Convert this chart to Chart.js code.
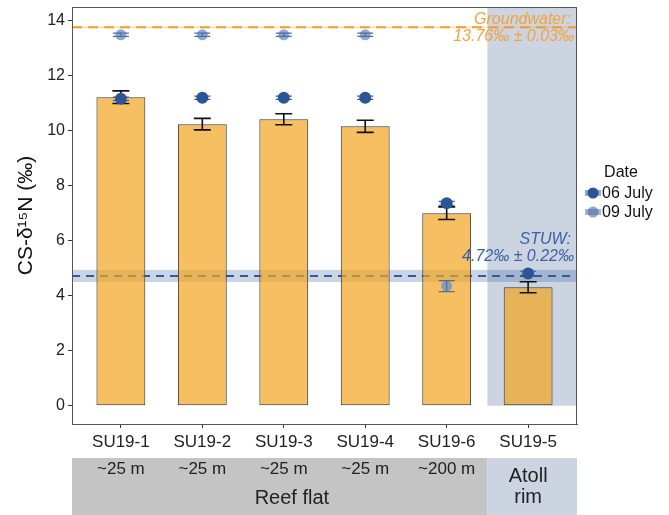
<!DOCTYPE html>
<html>
<head>
<meta charset="utf-8">
<script src="https://cdn.jsdelivr.net/npm/chart.js@4.4.1/dist/chart.umd.min.js"></script>
<style>
  html, body { margin: 0; padding: 0; background: #fff; }
  #wrap { width: 669px; height: 515px; }
</style>
</head>
<body>
<div id="wrap"><canvas id="chart"></canvas></div>
<script>
// --- Data -----------------------------------------------------------
const sites = ["SU19-1", "SU19-2", "SU19-3", "SU19-4", "SU19-6", "SU19-5"];
const distances = ["~25 m", "~25 m", "~25 m", "~25 m", "~200 m", ""];
const meanValues = [11.22, 10.24, 10.42, 10.16, 7.0, 4.31];
const meanErrors = [0.23, 0.21, 0.2, 0.22, 0.23, 0.2];
const july06 = [11.16, 11.2, 11.2, 11.2, 7.36, 4.81];
const july06Err = [0.06, 0.06, 0.06, 0.06, 0.07, 0.08];
const july09 = [13.49, 13.49, 13.49, 13.49, 4.35, null];
const july09Err = [0.06, 0.06, 0.06, 0.06, 0.2, null];
const gwMean = 13.76, gwSd = 0.03;
const stuwMean = 4.72, stuwSd = 0.22;
const yTicks = [0, 2, 4, 6, 8, 10, 12, 14];
const zoneNames = [["Reef flat"], ["Atoll", "rim"]];
const zoneSites = [[1, 5], [6, 6]];   // first/last site number in each zone

const FONT = '"Liberation Sans", Arial, Helvetica, sans-serif';
const ORANGE = "#f3a33c";
const BLUE_TXT = "#3b62a6";
const DARK_PT = "#2b5597";
const LIGHT_PT = "rgba(118,146,196,0.8)";

Chart.defaults.font.family = FONT;
Chart.defaults.color = "#222";

function toXY(vals) {
    return vals.map((v, i) => ({ x: i + 1, y: v }));
}

// --- Drawing helpers ------------------------------------------------
function errorBars(ctx, x, y, vals, errs, color, lw, cap) {
    ctx.save();
    ctx.strokeStyle = color;
    ctx.lineWidth = lw;
    vals.forEach((v, i) => {
        if (v == null || errs[i] == null) return;
        const px = x.getPixelForValue(i + 1);
        const hi = y.getPixelForValue(v + errs[i]);
        const lo = y.getPixelForValue(v - errs[i]);
        ctx.beginPath();
        ctx.moveTo(px, hi); ctx.lineTo(px, lo);
        ctx.moveTo(px - cap / 2, hi); ctx.lineTo(px + cap / 2, hi);
        ctx.moveTo(px - cap / 2, lo); ctx.lineTo(px + cap / 2, lo);
        ctx.stroke();
    });
    ctx.restore();
}

const overlays = {
    id: "overlays",
    beforeDatasetsDraw(chart) {
        const { ctx, chartArea: a, scales: { x, y } } = chart;
        ctx.save();
        // atoll rim shading (behind the bars)
        const ax = x.getPixelForValue(zoneSites[1][0] - 0.5);
        ctx.fillStyle = "#cbd4e0";
        ctx.fillRect(ax, a.top, a.right - ax, y.getPixelForValue(0) - a.top);

        // reference bands
        const band = (m, sd, col) => {
            const t = y.getPixelForValue(m + sd), b = y.getPixelForValue(m - sd);
            ctx.fillStyle = col;
            ctx.fillRect(a.left, t, a.right - a.left, Math.max(b - t, 1.2));
        };
        band(gwMean, gwSd, "rgba(245,165,60,0.35)");
        band(stuwMean, stuwSd, "rgba(60,100,160,0.28)");

        const dash = (m, col, pattern) => {
            const py = y.getPixelForValue(m);
            ctx.strokeStyle = col;
            ctx.lineWidth = 2;
            ctx.setLineDash(pattern);
            ctx.beginPath();
            ctx.moveTo(a.left, py); ctx.lineTo(a.right, py);
            ctx.stroke();
        };
        dash(gwMean, "#f39c2a", [10, 6]);
        dash(stuwMean, "#2f5a9e", [8, 6]);
        ctx.restore();
    },
    afterDatasetDraw(chart, args) {
        if (args.index !== 0) return;
        const { ctx, scales: { x, y } } = chart;
        errorBars(ctx, x, y, meanValues, meanErrors, "#111", 1.6, 17);
    },
    afterDatasetsDraw(chart) {
        const { ctx, scales: { x, y } } = chart;
        errorBars(ctx, x, y, july06, july06Err, DARK_PT, 1.2, 16);
        errorBars(ctx, x, y, july09, july09Err, "#4d6fa8", 1.2, 16);
    },
    afterDraw(chart) {
        const { ctx, chartArea: a, scales: { x, y } } = chart;
        ctx.save();
        // panel border
        ctx.strokeStyle = "#555";
        ctx.lineWidth = 1;
        ctx.strokeRect(a.left + 0.5, a.top + 0.5, a.right - a.left - 1, a.bottom - a.top);

        // reference line labels
        ctx.font = "italic 16px " + FONT;
        ctx.textAlign = "right";
        ctx.textBaseline = "middle";
        const gy = y.getPixelForValue(gwMean);
        ctx.fillStyle = ORANGE;
        ctx.fillText("Groundwater:", a.right - 6, gy - 8);
        ctx.fillText(gwMean.toFixed(2) + "\u2030 \u00b1 " + gwSd.toFixed(2) + "\u2030", a.right - 3, gy + 9);
        const sy = y.getPixelForValue(stuwMean);
        ctx.fillStyle = BLUE_TXT;
        ctx.fillText("STUW:", a.right - 6, sy - 36);
        ctx.fillText(stuwMean.toFixed(2) + "\u2030 \u00b1 " + stuwSd.toFixed(2) + "\u2030", a.right - 3, sy - 19);

        // site-type strips below the axis
        const top = a.bottom + 34, bottom = chart.height;
        zoneSites.forEach((z, k) => {
            const l = k === 0 ? x.min : z[0] - 0.5;
            const r = k === zoneSites.length - 1 ? x.max : z[1] + 0.5;
            const pl = x.getPixelForValue(l), pr = x.getPixelForValue(r);
            ctx.fillStyle = k === 0 ? "#c4c4c4" : "#cbd4e0";
            ctx.fillRect(pl, top, pr - pl, bottom - top);
        });
        ctx.textAlign = "center";
        ctx.fillStyle = "#222";
        ctx.font = "17px " + FONT;
        distances.forEach((d, i) => {
            if (d) ctx.fillText(d, x.getPixelForValue(i + 1), top + 11);
        });
        ctx.font = "20px " + FONT;
        const reef = zoneSites[0];
        ctx.fillText(zoneNames[0][0], x.getPixelForValue((reef[0] + reef[1]) / 2 + 0.1), top + 40);
        const rimX = x.getPixelForValue(zoneSites[1][0]);
        ctx.fillText(zoneNames[1][0], rimX, top + 18);
        ctx.fillText(zoneNames[1][1], rimX, top + 39);

        // legend
        const lx = a.right + 16;
        ctx.font = "16px " + FONT;
        ctx.fillStyle = "#111";
        ctx.fillText("Date", lx + 28, 173);
        ctx.textAlign = "left";
        chart.data.datasets.slice(1).forEach((ds, i) => {
            const cy = 193 + i * 19;
            ctx.fillStyle = ds.backgroundColor;
            ctx.beginPath();
            ctx.arc(lx, cy, 5.5, 0, Math.PI * 2);
            ctx.fill();
            ctx.strokeStyle = i === 0 ? DARK_PT : "#4d6fa8";
            ctx.lineWidth = 1.2;
            ctx.beginPath();
            ctx.moveTo(lx - 8, cy - 2); ctx.lineTo(lx + 8, cy - 2);
            ctx.moveTo(lx - 8, cy + 2); ctx.lineTo(lx + 8, cy + 2);
            ctx.moveTo(lx - 8, cy); ctx.lineTo(lx + 8, cy);
            ctx.stroke();
            ctx.fillStyle = "#111";
            ctx.fillText(ds.label, lx + 9, cy + 1);
        });
        ctx.restore();
    }
};

// --- Chart ----------------------------------------------------------
new Chart(document.getElementById("chart"), {
    type: "bar",
    data: {
        datasets: [
            {
                label: "Mean",
                data: toXY(meanValues),
                backgroundColor: "rgba(242,165,32,0.7)",
                borderColor: "#3a3a3a",
                borderWidth: 1,
                borderSkipped: false,
                barPercentage: 0.6,
                categoryPercentage: 1,
                order: 2
            },
            {
                type: "scatter",
                label: "06 July",
                data: toXY(july06),
                backgroundColor: DARK_PT,
                borderColor: DARK_PT,
                borderWidth: 0,
                pointRadius: 6,
                order: 0
            },
            {
                type: "scatter",
                label: "09 July",
                data: toXY(july09),
                backgroundColor: LIGHT_PT,
                borderColor: LIGHT_PT,
                borderWidth: 0,
                pointRadius: 5.5,
                order: 1
            }
        ]
    },
    options: {
        responsive: true,
        maintainAspectRatio: false,
        animation: false,
        layout: { padding: { top: 7, right: 92, bottom: 0, left: 0 } },
        scales: {
            x: {
                type: "linear",
                offset: false,
                min: 0.4,
                max: 6.6,
                afterBuildTicks: axis => { axis.ticks = sites.map((s, i) => ({ value: i + 1 })); },
                afterFit: s => { s.height = 91; s.paddingLeft = 0; s.paddingRight = 0; },
                ticks: {
                    callback: v => sites[v - 1],
                    autoSkip: false,
                    maxRotation: 0,
                    padding: 4,
                    color: "#222",
                    font: { size: 17 }
                },
                grid: { display: true, offset: false, drawOnChartArea: false, tickLength: 4, color: "#333" },
                border: { color: "#555" }
            },
            y: {
                min: -0.665,
                max: 14.5,
                afterBuildTicks: axis => { axis.ticks = yTicks.map(v => ({ value: v })); },
                afterFit: s => { s.width = 72; s.paddingTop = 0; s.paddingBottom = 0; },
                ticks: { padding: 3, color: "#222", font: { size: 16 } },
                grid: { display: true, drawOnChartArea: false, tickLength: 4, color: "#333" },
                border: { color: "#555" },
                title: {
                    display: true,
                    text: "CS-\u03b4\u00b9\u2075N (\u2030)",
                    color: "#111",
                    font: { size: 21 },
                    padding: { top: 14, bottom: 0 }
                }
            }
        },
        plugins: {
            legend: { display: false },
            tooltip: { enabled: false }
        }
    },
    plugins: [overlays]
});
</script>
</body>
</html>
